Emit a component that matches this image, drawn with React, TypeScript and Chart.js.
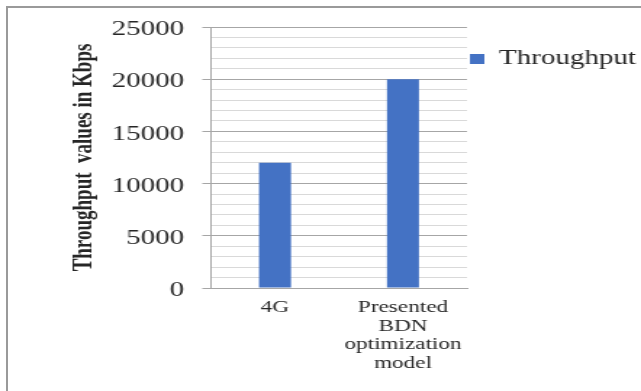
import React, { useEffect, useRef } from "react";
import { Chart, registerables } from "chart.js";

Chart.register(...registerables);

// ---- data ----
const categories: (string | string[])[] = ["4G", ["Presented", "BDN", "optimization", "model"]];
const throughputValues: number[] = [12000, 20000];
const seriesLabel = "Throughput";
const yAxisTitle = "Throughput  values in Kbps";
const yMin = 0;
const yMax = 25000;
const yMinorStep = 1000;
const yMajorStep = 5000;

// ---- layout (the source image is horizontally stretched) ----
const PAGE_W = 641;
const PAGE_H = 391;
const STRETCH_X = 1.45;
const CANVAS_W = Math.round(PAGE_W / STRETCH_X);
const FONT = '"Liberation Serif", "Times New Roman", serif';
const TEXT = "#262626";
const MAJOR = "#a6a6a6";
const MINOR = "#d9d9d9";
const BAR = "#4472C4";

export default function App() {
  const ref = useRef<HTMLCanvasElement | null>(null);

  useEffect(() => {
    if (!ref.current) return;
    Chart.defaults.font.family = FONT;
    const isMajor = (c: any) => c.tick && c.tick.value % yMajorStep === 0;
    const chart = new Chart(ref.current, {
      type: "bar",
      data: {
        labels: categories as any,
        datasets: [
          {
            label: seriesLabel,
            data: throughputValues,
            backgroundColor: BAR,
            barPercentage: 0.25,
            categoryPercentage: 1,
          },
        ],
      },
      options: {
        animation: false,
        responsive: false,
        maintainAspectRatio: false,
        devicePixelRatio: 1,
        layout: { padding: { top: 27, left: 0, right: 0, bottom: 0 } },
        plugins: {
          tooltip: { enabled: false },
          legend: {
            position: "right",
            align: "start",
            fullSize: false,
            maxWidth: 120,
            title: { display: true, text: " ", padding: 0, font: { size: 20, lineHeight: 1 } },
            labels: {
              boxWidth: 10,
              boxHeight: 10,
              padding: 2,
              color: TEXT,
              font: { size: 20, family: FONT },
            },
          },
        },
        scales: {
          x: {
            grid: { display: false, drawTicks: false },
            border: { display: true, color: MAJOR },
            ticks: {
              padding: 11,
              color: TEXT,
              autoSkip: false,
              maxRotation: 0,
              font: { size: 16, lineHeight: 1.15, family: FONT },
            },
            afterFit: (s: any) => {
              s.height = PAGE_H - 288;
            },
          },
          y: {
            min: yMin,
            max: yMax,
            border: { display: true, color: MAJOR },
            grid: {
              color: (c: any) => (isMajor(c) ? MAJOR : MINOR),
              tickColor: (c: any) => (isMajor(c) ? MAJOR : "rgba(0,0,0,0)"),
              tickLength: 6,
            },
            ticks: {
              stepSize: yMinorStep,
              autoSkip: false,
              padding: 12.6,
              labelOffset: 3,
              color: TEXT,
              font: { size: 20, family: FONT },
              callback: (v: any) => (Number(v) % yMajorStep === 0 ? String(v) : ""),
            },
            title: {
              display: true,
              text: yAxisTitle,
              color: TEXT,
              font: { size: 19, weight: "bold", family: FONT },
              padding: { top: 47, bottom: 0 },
            },
            afterFit: (s: any) => {
              s.width = 145.5;
            },
          },
        },
      },
    });
    return () => chart.destroy();
  }, []);

  return (
    <div style={{ position: "absolute", left: 0, top: 0, width: PAGE_W, height: PAGE_H, background: "#fff", overflow: "hidden" }}>
      <canvas
        ref={ref}
        width={CANVAS_W}
        height={PAGE_H}
        style={{ display: "block", width: PAGE_W + "px", height: PAGE_H + "px" }}
      />
      <div
        style={{
          position: "absolute",
          left: 6,
          top: 6,
          right: 0,
          bottom: 0,
          borderLeft: "2px solid #9a9a9a",
          borderTop: "2px solid #9a9a9a",
          pointerEvents: "none",
        }}
      />
    </div>
  );
}
